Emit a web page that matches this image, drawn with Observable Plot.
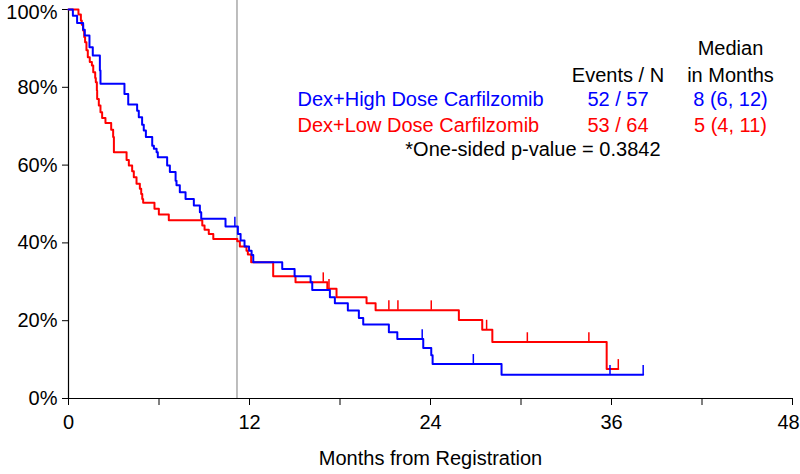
<!DOCTYPE html>
<html>
<head>
<meta charset="utf-8">
<script src="https://cdn.jsdelivr.net/npm/d3@7"></script>
<script src="https://cdn.jsdelivr.net/npm/@observablehq/plot@0.6"></script>
<style>
  html, body { margin: 0; padding: 0; background: #fff; }
</style>
</head>
<body>
<div id="chart"></div>
<script>
// ---- Data ----
// Dex+High Dose Carfilzomib: step change points (months, survival %)
const highTimes = [0, 0.29, 0.57, 0.97, 1.08, 1.39, 1.61, 2.08, 2.12, 3.71, 3.96, 4.55, 4.66, 4.88, 4.99, 5.13, 5.55, 5.66, 5.84, 5.92, 6.54, 6.72, 7.10, 7.16, 7.38, 7.76, 8.31, 8.71, 8.80, 10.41, 11.23, 11.41, 11.67, 11.97, 12.14, 12.25, 14.17, 14.99, 16.05, 16.16, 17.33, 17.66, 18.52, 19.25, 19.54, 21.24, 21.80, 23.52, 24.05, 24.14, 28.71, 38.1];
const highSurv  = [100, 98.4, 96.5, 94.8, 93.3, 90.3, 88.2, 84.3, 80.9, 78.3, 75.6, 74.0, 72.3, 70.4, 68.9, 67.2, 65.0, 64.2, 63.3, 62.0, 59.9, 58.2, 56.0, 54.8, 53.0, 51.3, 49.6, 47.9, 46.2, 44.2, 42.3, 40.6, 39.1, 38.0, 36.9, 35.0, 33.3, 31.4, 29.9, 27.9, 26.0, 24.5, 22.6, 20.7, 19.0, 17.0, 15.3, 13.0, 11.1, 8.9, 6.1, 6.1];
const highCensorTimes = [11.03, 23.45, 26.84, 35.9, 38.1];
const highCensorSurv  = [44.2, 15.3, 8.9, 6.1, 6.1];

// Dex+Low Dose Carfilzomib
const lowTimes = [0, 0.66, 0.82, 0.88, 0.97, 1.04, 1.10, 1.19, 1.28, 1.41, 1.55, 1.64, 1.77, 1.81, 1.88, 1.90, 2.01, 2.12, 2.23, 2.45, 2.83, 2.96, 3.01, 3.85, 4.00, 4.22, 4.33, 4.51, 4.73, 4.82, 4.89, 4.95, 5.70, 5.99, 6.65, 8.87, 9.02, 9.30, 9.60, 11.19, 11.36, 11.80, 11.89, 12.11, 13.57, 15.05, 17.16, 17.77, 19.76, 20.36, 25.88, 27.43, 28.10, 35.68, 36.45];
const lowSurv  = [100, 98.7, 97.2, 96.1, 94.6, 92.9, 91.6, 89.5, 87.7, 86.5, 85.6, 83.9, 82.4, 81.3, 79.2, 77.0, 75.3, 73.6, 72.1, 70.8, 69.1, 67.2, 63.3, 61.3, 59.9, 58.4, 56.9, 55.2, 53.9, 52.6, 51.3, 50.3, 48.8, 47.3, 45.8, 44.5, 43.4, 42.3, 41.0, 40.4, 39.1, 38.0, 37.0, 35.0, 31.4, 29.9, 28.2, 26.0, 24.5, 22.7, 20.2, 17.7, 14.5, 7.6, 7.6];
const lowCensorTimes = [16.89, 17.27, 21.24, 21.84, 24.05, 27.72, 30.42, 34.5, 36.45];
const lowCensorSurv  = [29.9, 28.2, 22.7, 22.7, 22.7, 17.7, 14.5, 14.5, 7.6];

// Reference line (months)
const refLineMonths = [11.17];

// Axis ticks
const xTicks = [0, 6, 12, 18, 24, 30, 36, 42, 48];
const xTickLabels = ["0", "", "12", "", "24", "", "36", "", "48"];
const yTicks = [0, 20, 40, 60, 80, 100];
const yTickLabels = ["0%", "20%", "40%", "60%", "80%", "100%"];
const xAxisTitle = "Months from Registration";

// Legend / annotation text
const groupNames = ["Dex+High Dose Carfilzomib", "Dex+Low Dose Carfilzomib"];
const groupColors = ["#0000ff", "#ff0000"];
const eventsN = ["52 / 57", "53 / 64"];
const medians = ["8 (6, 12)", "5 (4, 11)"];
const headerEvents = "Events / N";
const headerMedian = ["Median", "in Months"];
const pValueText = "*One-sided p-value = 0.3842";

// ---- Build tables ----
const high = highTimes.map((t, i) => ({t, s: highSurv[i]}));
const low = lowTimes.map((t, i) => ({t, s: lowSurv[i]}));
const highC = highCensorTimes.map((t, i) => ({t, s: highCensorSurv[i]}));
const lowC = lowCensorTimes.map((t, i) => ({t, s: lowCensorSurv[i]}));

// Legend anchor positions (in data units)
const nameX = 15.18, eventsX = 36.43, medianX = 43.89, pEndX = 39.25;
const rowY = [76.9, 70.2];
const legendRows = groupNames.map((g, i) => ({name: g, ev: eventsN[i], med: medians[i], color: groupColors[i], y: rowY[i]}));

const tickH = 2.4; // censor tick height in %
const lastX = xTicks[xTicks.length - 1];
const topY = yTicks[yTicks.length - 1];
const fmtX = d => xTickLabels[xTicks.indexOf(d)];
const fmtY = d => yTickLabels[yTicks.indexOf(d)];

const chart = Plot.plot({
  width: 800,
  height: 474,
  marginLeft: 68,
  marginRight: 8,
  marginTop: 9,
  marginBottom: 76,
  x: {domain: [0, 48]},
  y: {domain: [0, 100]},
  style: {fontFamily: "'Liberation Sans', Arial, sans-serif", fontSize: "20px", color: "#000", background: "#fff"},
  marks: [
    Plot.ruleX(refLineMonths, {stroke: "#a8a8a8", strokeWidth: 1.5, insetTop: -9}),
    // y axis: ticks + labels (top label nudged so it is not clipped)
    Plot.axisY({ticks: yTicks, tickSize: 6, tickPadding: 5, tickFormat: () => "", label: null}),
    Plot.axisY({ticks: yTicks.filter(d => d !== topY), tickSize: 0, tickPadding: 11, tickFormat: fmtY, label: null, fontSize: 20}),
    Plot.axisY({ticks: [topY], tickSize: 0, tickPadding: 11, dy: 3, tickFormat: fmtY, label: null, fontSize: 20}),
    // x axis: ticks + labels (last label nudged so it is not clipped)
    Plot.axisX({ticks: xTicks, tickSize: 7, tickPadding: 9, tickFormat: () => "", label: null}),
    Plot.axisX({ticks: xTicks.filter(d => d !== lastX), tickSize: 0, tickPadding: 16, tickFormat: fmtX, label: null, fontSize: 20}),
    Plot.axisX({ticks: [lastX], tickSize: 0, tickPadding: 16, dx: -4, tickFormat: fmtX, label: null, fontSize: 20}),
    Plot.ruleX([0], {stroke: "#000", strokeWidth: 1.2}),
    Plot.ruleY([0], {stroke: "#000", strokeWidth: 1.2}),
    Plot.line(low, {x: "t", y: "s", curve: "step-after", stroke: groupColors[1], strokeWidth: 2}),
    Plot.ruleX(lowC, {x: "t", y1: "s", y2: d => d.s + tickH, stroke: groupColors[1], strokeWidth: 1.5}),
    Plot.line(high, {x: "t", y: "s", curve: "step-after", stroke: groupColors[0], strokeWidth: 2}),
    Plot.ruleX(highC, {x: "t", y1: "s", y2: d => d.s + tickH, stroke: groupColors[0], strokeWidth: 1.5}),
    // legend
    Plot.text(legendRows, {x: nameX, y: "y", text: "name", fill: "color", textAnchor: "start", fontSize: 20}),
    Plot.text(legendRows, {x: eventsX, y: "y", text: "ev", fill: "color", textAnchor: "middle", fontSize: 20}),
    Plot.text(legendRows, {x: medianX, y: "y", text: "med", fill: "color", textAnchor: "middle", fontSize: 20}),
    Plot.text([headerEvents], {x: eventsX, y: 82.9, text: d => d, fill: "#000", textAnchor: "middle", fontSize: 20}),
    Plot.text(headerMedian, {x: medianX, y: (d, i) => [90.0, 82.9][i], text: d => d, fill: "#000", textAnchor: "middle", fontSize: 20}),
    Plot.text([pValueText], {x: pEndX, y: 64.0, text: d => d, fill: "#000", textAnchor: "end", fontSize: 20}),
    Plot.text([xAxisTitle], {frameAnchor: "bottom", dy: 66, text: d => d, fill: "#000", fontSize: 20})
  ]
});
document.getElementById("chart").appendChild(chart);
</script>
</body>
</html>
